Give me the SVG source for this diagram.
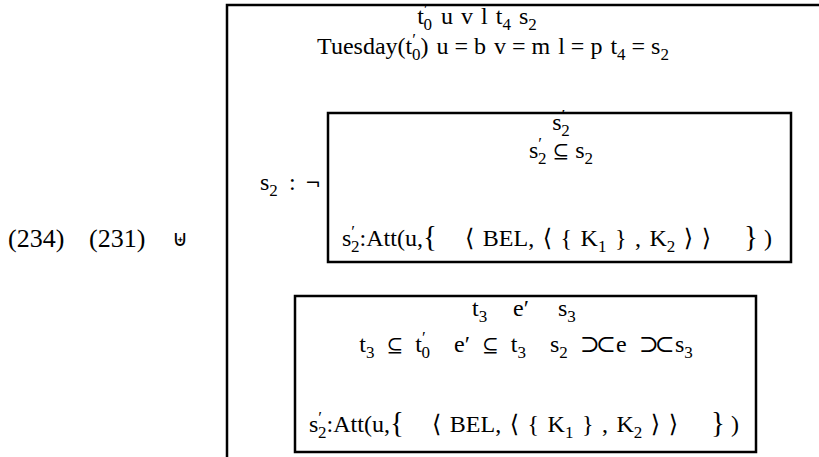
<svg xmlns="http://www.w3.org/2000/svg" width="819" height="457" viewBox="0 0 819 457">
<style>
text{font-family:"Liberation Serif","DejaVu Serif",serif;font-size:24px;fill:#000;white-space:pre}
.s{font-size:17px}
.lab{font-size:26px}
.sym{font-family:"DejaVu Sans",sans-serif;font-size:22px}
.op{font-family:"DejaVu Sans",sans-serif;font-size:19px}
.ss{font-family:"DejaVu Serif",serif;font-size:20px}
.br{font-size:29px}
.wide{word-spacing:2.5px}
.wider{word-spacing:6px}
.box{fill:none;stroke:#000;stroke-width:2.5}
</style>
<rect width="819" height="457" fill="#fff"/>
<g id="labels">
<text class="lab" x="8" y="247">(234)</text>
<text class="lab" x="89" y="247">(231)</text>
<text class="sym" x="172" y="246">⊎</text>
</g>
<g id="outer">
<rect class="box" x="227" y="5" width="700" height="500"/>
<text x="477" y="24" text-anchor="middle">t<tspan class="s" dy="-9">′</tspan><tspan class="s" dx="-4" dy="15">0</tspan><tspan dy="-6" dx="3"> u </tspan><tspan dx="2">v </tspan><tspan dx="2">l </tspan><tspan dx="2">t</tspan><tspan class="s" dy="6">4</tspan><tspan dy="-6" dx="2"> s</tspan><tspan class="s" dy="6">2</tspan></text>
<text x="493" y="54" text-anchor="middle">Tuesday(t<tspan class="s" dy="-9">′</tspan><tspan class="s" dx="-4" dy="15">0</tspan><tspan dy="-6">) </tspan><tspan dx="2">u = b </tspan><tspan dx="2">v = m </tspan><tspan dx="2">l = p </tspan><tspan dx="2">t</tspan><tspan class="s" dy="6">4</tspan><tspan dy="-6"> = s</tspan><tspan class="s" dy="6">2</tspan></text>
<text x="260" y="190">s<tspan class="s" dy="6">2</tspan><tspan dy="-6" x="289">:</tspan><tspan class="op" x="305">¬</tspan></text>
</g>
<g id="box1">
<rect class="box" x="328" y="113" width="463" height="149"/>
<text x="561" y="130" text-anchor="middle">s<tspan class="s" dy="-9">′</tspan><tspan class="s" dx="-4" dy="15">2</tspan></text>
<text x="561" y="158" text-anchor="middle">s<tspan class="s" dy="-9">′</tspan><tspan class="s" dx="-4" dy="15">2</tspan><tspan dy="-6"> </tspan><tspan class="ss">⊆</tspan><tspan> s</tspan><tspan class="s" dy="6">2</tspan></text>
<text class="wide" x="342" y="246">s<tspan class="s" dy="-9">′</tspan><tspan class="s" dx="-4" dy="15">2</tspan><tspan dy="-6">:Att(u,</tspan><tspan class="br">{</tspan><tspan x="465">⟨ BEL, ⟨ { K</tspan><tspan class="s" dy="6">1</tspan><tspan dy="-6"> } , K</tspan><tspan class="s" dy="6">2</tspan><tspan dy="-6"> ⟩ ⟩</tspan><tspan class="br" x="744">}</tspan><tspan x="764">)</tspan></text>
</g>
<g id="box2">
<rect class="box" x="295" y="296" width="461" height="156"/>
<text x="472" y="316">t<tspan class="s" dy="6">3</tspan><tspan dy="-6" x="513">e′</tspan><tspan x="558">s</tspan><tspan class="s" dy="6">3</tspan></text>
<text class="wider" x="526" y="352" text-anchor="middle">t<tspan class="s" dy="6">3</tspan><tspan dy="-6"> </tspan><tspan class="ss">⊆</tspan><tspan> t</tspan><tspan class="s" dy="-9">′</tspan><tspan class="s" dx="-4" dy="15">0</tspan><tspan dy="-6">  e′ </tspan><tspan class="ss">⊆</tspan><tspan> t</tspan><tspan class="s" dy="6">3</tspan><tspan dy="-6">  s</tspan><tspan class="s" dy="6">2</tspan><tspan dy="-6"> </tspan><tspan letter-spacing="-4">⊃⊂</tspan><tspan dx="4">e </tspan><tspan letter-spacing="-4">⊃⊂</tspan><tspan dx="4">s</tspan><tspan class="s" dy="6">3</tspan></text>
<text class="wide" x="309" y="432">s<tspan class="s" dy="-9">′</tspan><tspan class="s" dx="-4" dy="15">2</tspan><tspan dy="-6">:Att(u,</tspan><tspan class="br">{</tspan><tspan x="432">⟨ BEL, ⟨ { K</tspan><tspan class="s" dy="6">1</tspan><tspan dy="-6"> } , K</tspan><tspan class="s" dy="6">2</tspan><tspan dy="-6"> ⟩ ⟩</tspan><tspan class="br" x="711">}</tspan><tspan x="731">)</tspan></text>
</g>
<g id="connectors"></g>
</svg>
